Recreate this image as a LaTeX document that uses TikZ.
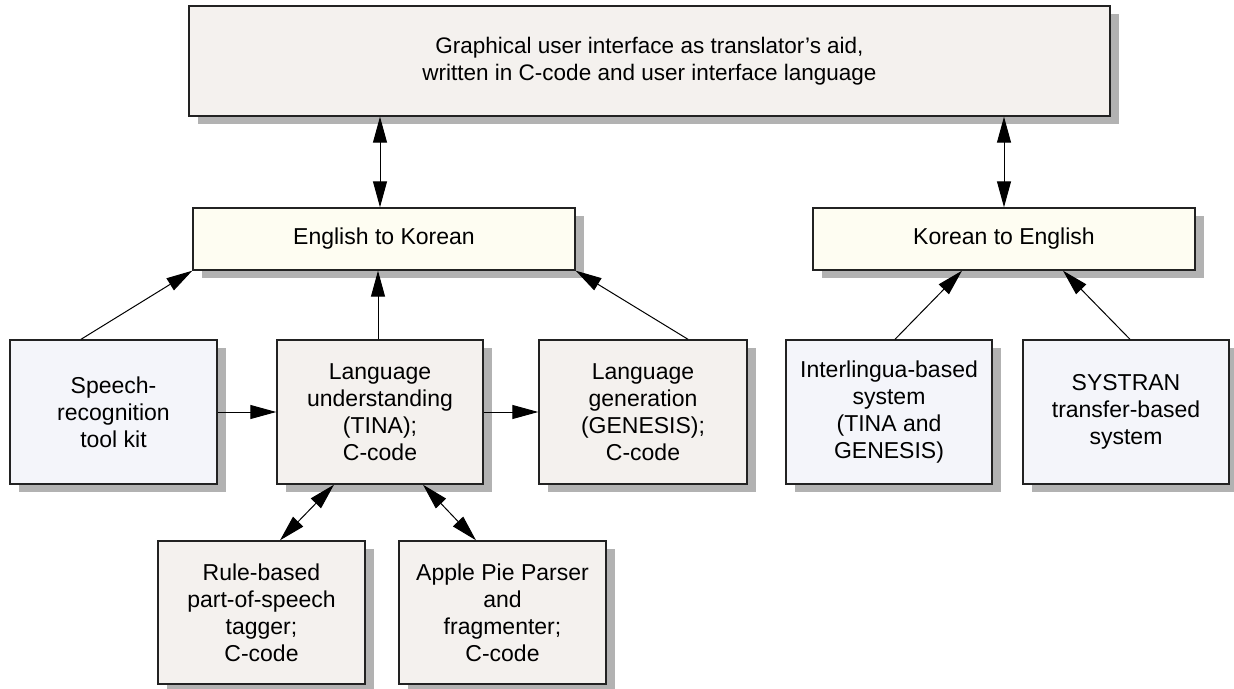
\documentclass[tikz,border=0pt]{standalone}
\usepackage{fontspec}
\setmainfont{Liberation Sans}
\usetikzlibrary{shadows,arrows.meta}
\definecolor{guifill}{HTML}{F4F1EE}
\definecolor{yelfill}{HTML}{FEFDF2}
\definecolor{bluefill}{HTML}{F4F5FA}
\definecolor{shadowgray}{HTML}{B2B2B2}
\definecolor{edge}{HTML}{222222}
\tikzset{
  boxbase/.style={draw=edge, line width=1.4pt, inner sep=0pt, align=center,
    font=\fontsize{23}{27}\selectfont,
    drop shadow={shadow xshift=9pt, shadow yshift=-8pt, fill=shadowgray, opacity=1}},
  gbox/.style={boxbase, fill=guifill},
  ybox/.style={boxbase, fill=yelfill},
  bbox/.style={boxbase, fill=bluefill},
  conn/.style={line width=1pt, -{Triangle[length=26pt,width=14pt]}},
  biconn/.style={line width=1pt, {Triangle[length=26pt,width=14pt]}-{Triangle[length=26pt,width=14pt]}}
}
\begin{document}
\begin{tikzpicture}[x=1pt,y=-1pt]
\useasboundingbox (0,0) rectangle (1234,688);
\node[gbox, minimum width=921pt, minimum height=110pt, font=\fontsize{22.5}{27}\selectfont] (gui) at (649.5,61)
  {Graphical user interface as translator's aid,\\written in C-code and user interface language};
\node[ybox, minimum width=382pt, minimum height=62pt] (e2k) at (384,239) {English to Korean};
\node[ybox, minimum width=382pt, minimum height=62pt] (k2e) at (1004,239) {Korean to English};
\node[bbox, minimum width=207pt, minimum height=144pt] (speech) at (113.5,412) {Speech-\\recognition\\tool kit};
\node[gbox, minimum width=206pt, minimum height=144pt] (lu) at (380,412) {Language\\understanding\\(TINA);\\C-code};
\node[gbox, minimum width=208pt, minimum height=144pt] (lg) at (643,412) {Language\\generation\\(GENESIS);\\C-code};
\node[bbox, minimum width=206pt, minimum height=144pt] (inter) at (889,412) {Interlingua-based\\system\\(TINA and\\GENESIS)};
\node[bbox, minimum width=206pt, minimum height=144pt] (systran) at (1126,412) {SYSTRAN\\transfer-based\\system};
\node[gbox, minimum width=207pt, minimum height=143pt] (rule) at (261.5,612.5) {Rule-based\\part-of-speech\\tagger;\\C-code};
\node[gbox, minimum width=207pt, minimum height=143pt] (apple) at (502.5,612.5) {Apple Pie Parser\\and\\fragmenter;\\C-code};

\draw[biconn] ([xshift=-4pt]e2k.north |- gui.south) -- ([xshift=-4pt]e2k.north);
\draw[biconn] (k2e.north |- gui.south) -- (k2e.north);
\draw[conn] ([xshift=-32.5pt]speech.north) -- (e2k.south west);
\draw[conn] ([xshift=-2pt]lu.north) -- ([xshift=-2pt]lu.north |- e2k.south);
\draw[conn] ([xshift=45pt]lg.north) -- (e2k.south east);
\draw[conn] (speech.east) -- (lu.west);
\draw[conn] (lu.east) -- (lg.west);
\draw[conn] ([xshift=6pt]inter.north) -- ([xshift=-42pt]k2e.south);
\draw[conn] ([xshift=4pt]systran.north) -- ([xshift=59pt]k2e.south);
\draw[biconn] ([xshift=-46pt]lu.south) -- ([xshift=18.5pt]rule.north);
\draw[biconn] ([xshift=43pt]lu.south) -- ([xshift=-26.5pt]apple.north);
\end{tikzpicture}
\end{document}
